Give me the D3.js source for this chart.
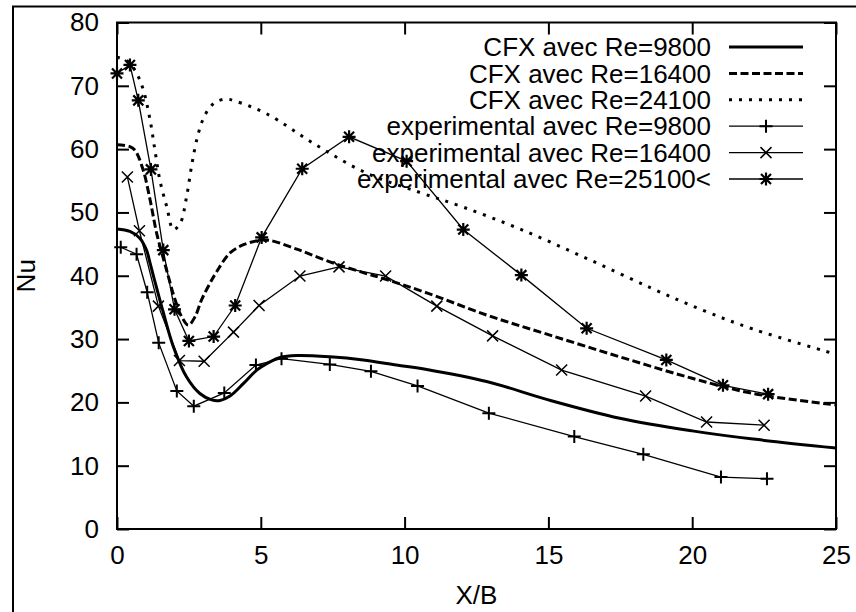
<!DOCTYPE html>
<html>
<head>
<meta charset="utf-8">
<script src="https://cdn.jsdelivr.net/npm/d3@7"></script>
<style>
  html, body { margin: 0; padding: 0; background: #fff; }
  svg { display: block; font-family: "Liberation Sans", Arial, sans-serif; }
</style>
</head>
<body>
<svg id="chart" width="856" height="612"></svg>
<script>
// Nusselt number along the wall, CFX simulations vs. experiments
const xTicks = [0, 5, 10, 15, 20, 25];
const yTicks = [0, 10, 20, 30, 40, 50, 60, 70, 80];

// CFX curves [X/B, Nu]
const cfx9800 = [[0,47.4],[0.45,47.0],[0.8,45.9],[1.03,44.0],[1.15,42.0],[1.3,39.4],[1.61,34.2],[1.96,28.8],[2.42,24.0],[2.88,21.4],[3.29,20.4],[3.58,20.3],[3.93,21.0],[4.4,23.0],[4.86,25.1],[5.32,26.4],[5.67,27.1],[6.25,27.4],[7.4,27.2],[8.56,26.7],[9.72,25.9],[10.77,25.2],[12.85,23.3],[15,20.4],[17.48,17.5],[20,15.5],[22.12,14.2],[25,12.8]];
const cfx16400 = [[0,60.7],[0.45,60.4],[0.63,59.8],[0.91,56.7],[1.15,52.0],[1.38,46.7],[1.7,41.3],[2.02,36.2],[2.25,33.5],[2.48,32.2],[2.71,33.5],[2.94,36.2],[3.23,38.8],[3.46,40.6],[3.93,43.6],[4.4,44.9],[4.97,45.6],[5.3,45.6],[6.25,44.2],[7.4,42.2],[8.56,40.5],[9.37,39.4],[10.77,37.3],[12.85,33.8],[15,30.7],[17.48,27.2],[20,23.8],[22.12,21.4],[25,19.6]];
const cfx24100 = [[0,74.5],[0.4,73.8],[0.7,71.8],[0.92,69.3],[1.15,64.6],[1.32,59.8],[1.49,55.1],[1.73,50.9],[1.96,47.3],[2.2,48.3],[2.42,52.5],[2.6,57.5],[2.8,62.0],[3.0,64.8],[3.23,66.6],[3.46,67.5],[3.8,67.9],[4.1,67.6],[5.2,65.6],[6.94,60.6],[8.68,56.2],[10.5,53.2],[12.0,50.9],[14.0,47.4],[16.3,42.8],[18.6,38.0],[20.4,34.5],[22.1,31.6],[25,27.6]];

// Experimental points [X/B, Nu]
const exp9800 = [[0.13,44.5],[0.68,43.4],[1.05,37.4],[1.45,29.4],[2.08,21.8],[2.67,19.4],[3.73,21.5],[4.83,25.9],[5.72,26.9],[7.4,26.0],[8.83,24.9],[10.45,22.6],[12.93,18.3],[15.9,14.6],[18.3,11.8],[21.0,8.2],[22.6,7.95]];
const exp16400 = [[0.36,55.6],[0.78,47.1],[1.44,35.2],[2.17,26.6],[3.03,26.5],[4.05,31.1],[4.94,35.3],[6.36,39.95],[7.72,41.4],[9.34,39.95],[11.12,35.2],[13.06,30.5],[15.46,25.1],[18.38,21.0],[20.5,16.9],[22.5,16.4]];
const exp25100 = [[0,71.95],[0.45,73.3],[0.74,67.7],[1.18,56.8],[1.61,44.05],[2.0,34.7],[2.5,29.7],[3.36,30.4],[4.11,35.3],[5.03,46.06],[6.44,56.9],[8.07,61.95],[10.07,58.1],[12.04,47.3],[14.06,40.1],[16.33,31.7],[19.1,26.7],[21.07,22.7],[22.64,21.3]];

const legendLabels = [
  "CFX avec Re=9800",
  "CFX avec Re=16400",
  "CFX avec Re=24100",
  "experimental avec Re=9800",
  "experimental avec Re=16400",
  "experimental avec Re=25100<"
];

const svg = d3.select("#chart");
const FONT = 26;

const plotLeft = 117, plotRight = 836, plotTop = 22.5, plotBottom = 529;
const x = d3.scaleLinear().domain([0, 25]).range([plotLeft, plotRight]);
const y = d3.scaleLinear().domain([0, 80]).range([plotBottom, plotTop]);

// page frame
svg.append("path")
  .attr("d", `M13,612V6.5H856`)
  .attr("fill", "none").attr("stroke", "#000").attr("stroke-width", 2);

// axes with inward ticks (mirrored on top/right)
function styleAxis(g) {
  g.select(".domain").remove();
  g.selectAll(".tick line").attr("stroke", "#000").attr("stroke-width", 2);
  g.selectAll(".tick text").attr("font-size", FONT).attr("fill", "#000")
    .attr("font-family", "'Liberation Sans', Arial, sans-serif");
}
svg.append("g").attr("transform", `translate(0,${plotBottom})`)
  .call(d3.axisBottom(x).tickValues(xTicks).tickSizeInner(-12).tickSizeOuter(0).tickPadding(17))
  .call(styleAxis);
svg.append("g").attr("transform", `translate(0,${plotTop})`)
  .call(d3.axisTop(x).tickValues(xTicks).tickSizeInner(-12).tickSizeOuter(0).tickFormat(""))
  .call(styleAxis);
svg.append("g").attr("transform", `translate(${plotLeft},0)`)
  .call(d3.axisLeft(y).tickValues(yTicks).tickSizeInner(-12).tickSizeOuter(0).tickPadding(18))
  .call(styleAxis);
svg.append("g").attr("transform", `translate(${plotRight},0)`)
  .call(d3.axisRight(y).tickValues(yTicks).tickSizeInner(-12).tickSizeOuter(0).tickFormat(""))
  .call(styleAxis);

// plot border
svg.append("rect")
  .attr("x", plotLeft).attr("y", plotTop)
  .attr("width", plotRight - plotLeft).attr("height", plotBottom - plotTop)
  .attr("fill", "none").attr("stroke", "#000").attr("stroke-width", 2);

// axis titles
svg.append("text").attr("x", (plotLeft + plotRight) / 2).attr("y", 595).attr("dy", "0.35em")
  .attr("text-anchor", "middle").attr("font-size", FONT).text("X/B");
svg.append("text").attr("transform", `translate(26,${(plotTop + plotBottom) / 2}) rotate(-90)`)
  .attr("dy", "0.35em").attr("text-anchor", "middle").attr("font-size", FONT).text("Nu");

// line styles
const cfxStyles = [
  { data: cfx9800, dash: null },
  { data: cfx16400, dash: "8,3.5" },
  { data: cfx24100, dash: "3,7" }
];
const smooth = d3.line().x(d => x(d[0])).y(d => y(d[1])).curve(d3.curveCatmullRom.alpha(0.5));
const straight = d3.line().x(d => x(d[0])).y(d => y(d[1]));

const plot = svg.append("g");
cfxStyles.forEach(s => {
  plot.append("path").attr("d", smooth(s.data))
    .attr("fill", "none").attr("stroke", "#000").attr("stroke-width", 3)
    .attr("stroke-dasharray", s.dash);
});

// marker shapes
const markerPath = {
  plus: "M-6.5,0H6.5M0,-6.5V6.5",
  cross: "M-5.5,-5.5L5.5,5.5M-5.5,5.5L5.5,-5.5",
  star: "M-6.5,0H6.5M0,-6.5V6.5M-5,-5L5,5M-5,5L5,-5"
};
const expStyles = [
  { data: exp9800, marker: "plus", mw: 2 },
  { data: exp16400, marker: "cross", mw: 1.5 },
  { data: exp25100, marker: "star", mw: 2.2 }
];
expStyles.forEach(s => {
  plot.append("path").attr("d", straight(s.data))
    .attr("fill", "none").attr("stroke", "#000").attr("stroke-width", 1.3);
  plot.selectAll(null).data(s.data).enter().append("path")
    .attr("transform", d => `translate(${x(d[0])},${y(d[1])})`)
    .attr("d", markerPath[s.marker])
    .attr("fill", "none").attr("stroke", "#000").attr("stroke-width", s.mw);
});

// legend
const legend = svg.append("g");
const rowY = i => 47 + i * 26.4;
const keyX0 = 729, keyX1 = 803, textX = 711;
legendLabels.forEach((label, i) => {
  const yy = rowY(i);
  legend.append("text").attr("x", textX).attr("y", yy).attr("dy", "0.35em")
    .attr("text-anchor", "end").attr("font-size", FONT).text(label);
  if (i < 3) {
    legend.append("line").attr("x1", keyX0).attr("x2", keyX1).attr("y1", yy).attr("y2", yy)
      .attr("stroke", "#000").attr("stroke-width", 3)
      .attr("stroke-dasharray", cfxStyles[i].dash);
  } else {
    const s = expStyles[i - 3];
    legend.append("line").attr("x1", keyX0).attr("x2", keyX1).attr("y1", yy).attr("y2", yy)
      .attr("stroke", "#000").attr("stroke-width", 1.3);
    legend.append("path").attr("transform", `translate(${(keyX0 + keyX1) / 2},${yy})`)
      .attr("d", markerPath[s.marker])
      .attr("fill", "none").attr("stroke", "#000").attr("stroke-width", s.mw);
  }
});
</script>
</body>
</html>
